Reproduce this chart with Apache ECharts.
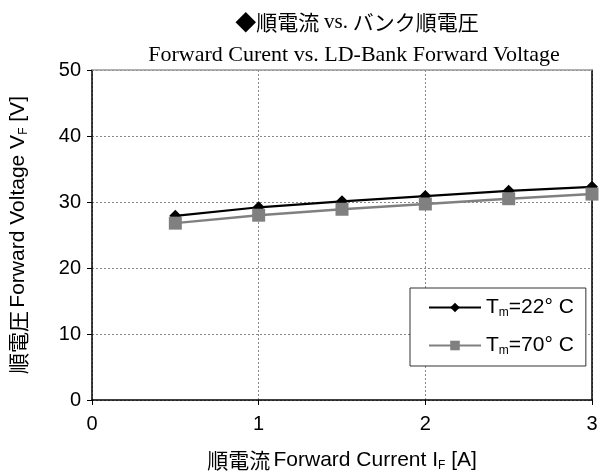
<!DOCTYPE html>
<html><head><meta charset="utf-8">
<script src="https://cdn.jsdelivr.net/npm/echarts@6/dist/echarts.min.js"></script>
<style>html,body{margin:0;padding:0;background:#fff}#c{width:600px;height:473px}</style>
</head><body><div id="c"></div>
<script>
const currents = [0.5, 1.0, 1.5, 2.0, 2.5, 3.0];
const voltage22 = [27.9, 29.2, 30.1, 30.9, 31.7, 32.3];
const voltage70 = [26.8, 28.0, 28.9, 29.7, 30.5, 31.2];
const seriesNames = ['Tm=22C', 'Tm=70C'];
const legendLabels = {'Tm=22C': ['T', 'm', '=22° C'], 'Tm=70C': ['T', 'm', '=70° C']};
const titleLine2 = 'Forward Curent vs. LD-Bank Forward Voltage';

const chart = echarts.init(document.getElementById('c'), null, {renderer: 'canvas'});
const sans = '"Liberation Sans", Arial, sans-serif';
const jp = '"Noto Sans CJK JP", "Liberation Sans", sans-serif';
const serif = '"Liberation Serif", "Times New Roman", serif';
const pair = (xs, ys) => xs.map((x, i) => [x, ys[i]]);
const nameRich = {
  j: {fontFamily: jp, fontSize: 21, color: '#000'},
  a: {fontFamily: sans, fontSize: 21, color: '#000'},
  s: {fontFamily: sans, fontSize: 12, color: '#000', padding: [12, 0, 0, 0]}
};

chart.setOption({
  animation: false,
  backgroundColor: '#fff',
  title: [{
    text: '{j|◆順電流 }{e|vs.}{j| バンク順電圧}',
    left: 352, top: 7, textAlign: 'center',
    textStyle: {rich: {
      j: {fontFamily: jp, fontSize: 21, color: '#000', fontWeight: 'normal'},
      e: {fontFamily: serif, fontSize: 21, color: '#000', fontWeight: 'normal'}
    }}
  }, {
    text: titleLine2,
    left: 349, top: 39, textAlign: 'center',
    textStyle: {fontFamily: serif, fontSize: 22, color: '#000', fontWeight: 'normal'}
  }],
  grid: {left: 92, right: 8, top: 70, bottom: 73, containLabel: false, outerBoundsMode: 'none'},
  xAxis: [{
    type: 'value', min: 0, max: 3, interval: 1,
    name: '{j|順電流} {a|Forward Current I}{s|F}{a| [A]}',
    nameLocation: 'middle', nameGap: 48,
    nameTextStyle: {rich: nameRich},
    axisLine: {show: true, onZero: false, lineStyle: {color: '#000', width: 1.5}},
    axisTick: {show: true, length: 5, lineStyle: {color: '#000'}},
    axisLabel: {fontFamily: sans, fontSize: 20, color: '#000', margin: 14},
    splitLine: {show: true, lineStyle: {color: '#888', type: [2, 2], width: 1}}
  }, {
    type: 'value', position: 'top', min: 0, max: 3, interval: 1,
    axisLine: {show: true, onZero: false, lineStyle: {color: '#999', width: 1.5}},
    axisTick: {show: false}, axisLabel: {show: false}, splitLine: {show: false}
  }],
  yAxis: [{
    type: 'value', min: 0, max: 50, interval: 10,
    name: '{j|順電圧} {a|Forward Voltage V}{s|F}{a| [V]}',
    nameLocation: 'middle', nameGap: 62, nameRotate: 90,
    nameTextStyle: {rich: nameRich},
    axisLine: {show: true, onZero: false, lineStyle: {color: '#000', width: 1.5}},
    axisTick: {show: true, length: 5, lineStyle: {color: '#000'}},
    axisLabel: {fontFamily: sans, fontSize: 20, color: '#000', margin: 11},
    splitLine: {show: true, lineStyle: {color: '#888', type: [2, 2], width: 1}}
  }, {
    type: 'value', position: 'right', min: 0, max: 50, interval: 10,
    axisLine: {show: true, onZero: false, lineStyle: {color: '#000', width: 1.5}},
    axisTick: {show: false}, axisLabel: {show: false}, splitLine: {show: false}
  }],
  legend: {
    orient: 'vertical', left: 410, top: 288,
    padding: [9, 12, 9, 18], itemGap: 16,
    itemWidth: 52, itemHeight: 12,
    backgroundColor: '#fff', borderColor: '#333', borderWidth: 1,
    data: seriesNames,
    formatter: n => {
      const p = legendLabels[n];
      return '{a|' + p[0] + '}{s|' + p[1] + '}{a|' + p[2] + '}';
    },
    textStyle: {rich: {
      a: {fontFamily: sans, fontSize: 21, color: '#000'},
      s: {fontFamily: sans, fontSize: 12, color: '#000', padding: [11, 0, 0, 0]}
    }}
  },
  series: [{
    name: seriesNames[0], type: 'line', data: pair(currents, voltage22),
    symbol: 'diamond', symbolSize: 12,
    lineStyle: {color: '#000', width: 2.2},
    itemStyle: {color: '#000'}, z: 2
  }, {
    name: seriesNames[1], type: 'line', data: pair(currents, voltage70),
    symbol: 'rect', symbolSize: 13,
    lineStyle: {color: '#808080', width: 2.5},
    itemStyle: {color: '#808080'}, z: 3
  }]
});
</script></body></html>
